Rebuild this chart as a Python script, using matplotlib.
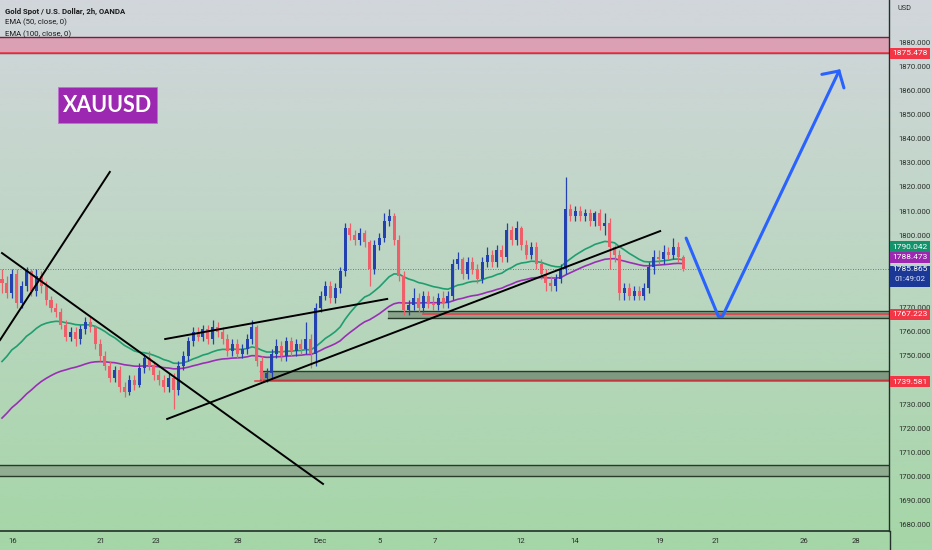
import matplotlib.pyplot as plt
import matplotlib.transforms as mtransforms
from matplotlib import font_manager
from matplotlib.lines import Line2D
from matplotlib.patches import Rectangle
import numpy as np


# -----------------------------
# DATA (XAUUSD, candles ~4h, open = previous close)
# -----------------------------

first_open = 1782

closes = [
    1780, 1776, 1784, 1772, 1779, 1785, 1777, 1783, 1779, 1773,
    1770, 1768, 1763, 1758, 1760, 1757, 1761, 1764, 1762, 1755,
    1750, 1746, 1741, 1744, 1737, 1735, 1740, 1738, 1745, 1749,
    1746, 1742, 1740, 1737, 1741, 1736, 1746, 1750, 1756, 1760,
    1758, 1761, 1757, 1762, 1760, 1757, 1752, 1755, 1751, 1753,
    1757, 1762, 1748, 1741, 1743, 1751, 1754, 1750, 1756, 1752,
    1755, 1753, 1757, 1751, 1770, 1775, 1779, 1774, 1778, 1785,
    1803, 1800, 1798, 1801, 1797, 1786, 1796, 1799, 1806, 1808,
    1798, 1783, 1769, 1771, 1774, 1770, 1775, 1772, 1771, 1774,
    1772, 1775, 1788, 1790, 1784, 1789, 1786, 1782, 1789, 1792,
    1789, 1794, 1791, 1802, 1798, 1803, 1796, 1792, 1795, 1788,
    1784, 1780, 1779, 1782, 1786, 1811, 1808, 1810, 1808, 1809,
    1806, 1809, 1804, 1805, 1795, 1792, 1776, 1778, 1775, 1777,
    1775, 1778, 1787, 1791, 1790, 1793, 1792, 1795, 1791, 1785.865,
]

highs = [
    1786, 1783, 1786, 1786, 1781, 1787, 1786, 1786, 1785, 1781,
    1775, 1772, 1770, 1765, 1762, 1762, 1763, 1766, 1766, 1763,
    1757, 1752, 1748, 1746, 1746, 1739, 1742, 1742, 1747, 1751,
    1752, 1748, 1744, 1742, 1743, 1743, 1748, 1752, 1758, 1762,
    1762, 1763, 1763, 1765, 1764, 1762, 1759, 1757, 1757, 1755,
    1759, 1765, 1763, 1750, 1745, 1753, 1757, 1756, 1758, 1758,
    1757, 1757, 1764, 1759, 1772, 1777, 1781, 1781, 1780, 1787,
    1805, 1805, 1802, 1803, 1802, 1798, 1798, 1801, 1809, 1811,
    1809, 1800, 1785, 1773, 1778, 1776, 1777, 1777, 1775, 1776,
    1777, 1777, 1790, 1793, 1791, 1791, 1791, 1788, 1791, 1795,
    1794, 1796, 1796, 1805, 1804, 1806, 1804, 1798, 1797, 1797,
    1790, 1786, 1783, 1784, 1788, 1824, 1813, 1812, 1812, 1811,
    1811, 1810, 1811, 1809, 1807, 1796, 1794, 1780, 1780, 1779,
    1779, 1780, 1789, 1794, 1794, 1796, 1795, 1799, 1797, 1792,
]

lows = [
    1776, 1774, 1774, 1770, 1770, 1777, 1775, 1775, 1776, 1771,
    1768, 1766, 1761, 1756, 1756, 1754, 1755, 1759, 1760, 1753,
    1748, 1744, 1739, 1739, 1735, 1733, 1734, 1736, 1737, 1743,
    1744, 1740, 1738, 1735, 1735, 1728, 1734, 1744, 1748, 1754,
    1756, 1756, 1755, 1755, 1758, 1755, 1750, 1750, 1749, 1749,
    1751, 1755, 1746, 1739, 1739, 1741, 1749, 1748, 1748, 1750,
    1750, 1751, 1751, 1745, 1746, 1768, 1773, 1772, 1772, 1776,
    1783, 1798, 1796, 1796, 1795, 1779, 1784, 1794, 1797, 1804,
    1796, 1781, 1767, 1767, 1769, 1768, 1768, 1770, 1769, 1769,
    1770, 1770, 1773, 1786, 1782, 1782, 1784, 1780, 1780, 1787,
    1787, 1787, 1789, 1789, 1796, 1796, 1794, 1790, 1790, 1786,
    1782, 1777, 1777, 1777, 1780, 1784, 1806, 1806, 1806, 1806,
    1804, 1804, 1802, 1800, 1786, 1789, 1773, 1773, 1773, 1773,
    1773, 1773, 1776, 1784, 1788, 1788, 1790, 1790, 1789, 1785,
]

# EMA start values (trend before the visible window)
ema_fast_seed = 1745
ema_slow_seed = 1722

# date ticks (bar positions)
tick_pos = [2.2, 20.2, 31.4, 48.2, 64.9, 77.1, 88.4, 105.9, 116.9, 134.3, 145.7, 163.7, 174.3]
tick_text = ["16", "21", "23", "28", "Dec", "5", "7", "12", "14", "19", "21", "26", "28"]

price_ticks = list(range(1680, 1890, 10))
hidden_ticks = [1740, 1780, 1790]   # covered by the price tags

# drawings: (bar, price) pairs
trend_lines = [
    [(-0.4, 1756.6), (22.0, 1826.2)],
    [(0.0, 1792.6), (65.5, 1697.0)],
    [(33.3, 1757.0), (78.6, 1773.6)],
    [(33.7, 1723.9), (134.3, 1801.7)],
]

forecast_path = [(139.6, 1798.8), (146.2, 1766.3), (147.0, 1766.3), (170.8, 1868.0)]
forecast_head = [(167.3, 1866.6), (170.8, 1868.0), (171.8, 1861.0)]

# zones: (start bar, low, high)
zone_top = (None, 1875.478, 1882.1)
zone_mid = (78.8, 1765.7, 1768.7)
zone_low = (52.7, 1740.0, 1743.9)
zone_bottom = (None, 1700.1, 1704.8)

red_levels = [(None, 1875.478), (85.9, 1767.223), (51.6, 1739.581)]

last_price = 1785.865
countdown = "01:49:02"

# right-scale tags: (centre price, text, colour)
tags = [
    (1875.4, "1875.478", "#f23645"),
    (1795.3, "1790.042", "#12936b"),
    (1790.8, "1788.473", "#9c27b0"),
    (1767.2, "1767.223", "#f23645"),
    (1739.3, "1739.581", "#f23645"),
]


# -----------------------------
# FONTS
# -----------------------------

names = {f.name for f in font_manager.fontManager.ttflist}
small_font = "Liberation Sans Narrow" if "Liberation Sans Narrow" in names else "Roboto"
small_size = 6.3 if small_font == "Liberation Sans Narrow" else 5.6


def ema(values, period, seed):
    k = 2 / (period + 1)
    out = []
    e = seed
    for v in values:
        e = e + k * (v - e)
        out.append(e)
    return out


# -----------------------------
# FIGURE + BACKGROUND
# -----------------------------

fig = plt.figure(figsize=(9.32, 5.5), dpi=100)

bg = fig.add_axes([0, 0, 1, 1], zorder=-1)
top_col = np.array([210, 214, 220]) / 255
bot_col = np.array([165, 214, 167]) / 255
t = np.linspace(0, 1, 256)[:, None]
grad = top_col[None, :] * (1 - t) + bot_col[None, :] * t
bg.imshow(grad[:, None, :], aspect="auto", extent=[0, 1, 0, 1])
bg.axis("off")

ax = fig.add_axes([0, 19 / 550, 889 / 932, 531 / 550])
ax.set_facecolor("none")

x_lo, x_hi = -0.41, 181.0
ax.set_xlim(x_lo, x_hi)
ax.set_ylim(1677.5, 1897.4)


# -----------------------------
# ZONES
# -----------------------------

def zone(z, face, edge):
    start = x_lo if z[0] is None else z[0]
    ax.add_patch(Rectangle((start, z[1]), x_hi - start, z[2] - z[1],
                           facecolor=face, edgecolor="none", zorder=1))
    ax.plot([start, x_hi], [z[1], z[1]], color=edge, lw=1.0, zorder=1.5)
    ax.plot([start, x_hi], [z[2], z[2]], color=edge, lw=1.0, zorder=1.5)


zone(zone_top, "#dca0b4", "#6e2440")
zone(zone_mid, "#8aa38b", "#263c28")
zone(zone_low, "#7f9a80", "#263c28")
zone(zone_bottom, "#90ad91", "#263c28")

for start, level in red_levels:
    s = x_lo if start is None else start
    ax.plot([s, x_hi], [level, level], color="#f23645", lw=1.1, zorder=1.6)

ax.axhline(last_price, color="#556055", lw=0.6, ls=(0, (1, 2)), zorder=1.2)


# -----------------------------
# CANDLES
# -----------------------------

opens = [first_open] + closes[:-1]
xs = np.arange(len(closes))

for i in xs:
    o, c = opens[i], closes[i]
    col = "#2341af" if c >= o else "#ef5f6a"
    h = max(highs[i], o, c)
    lo = min(lows[i], o, c)
    ax.vlines(i, lo, h, color=col, lw=0.9, zorder=3)
    ax.bar(i, max(abs(c - o), 0.3), bottom=min(o, c), width=0.62,
           color=col, zorder=3.1)


# -----------------------------
# EMA 50 / 100 (2h)  -> 25 / 50 on these 4h bars
# -----------------------------

ax.plot(xs, ema(closes, 25, ema_fast_seed), color="#1f9e70", lw=1.2, zorder=2.5)
ax.plot(xs, ema(closes, 50, ema_slow_seed), color="#9a2fb5", lw=1.2, zorder=2.5)


# -----------------------------
# DRAWINGS
# -----------------------------

for line in trend_lines:
    ax.plot([p[0] for p in line], [p[1] for p in line], color="black", lw=1.4, zorder=4)

ax.plot([p[0] for p in forecast_path], [p[1] for p in forecast_path],
        color="#2962ff", lw=2.2, zorder=4, solid_capstyle="round", solid_joinstyle="round")
ax.plot([p[0] for p in forecast_head], [p[1] for p in forecast_head],
        color="#2962ff", lw=2.2, zorder=4, solid_capstyle="round", solid_joinstyle="miter")

ax.add_patch(Rectangle((58 / 889, 1 - 123 / 531), 99 / 889, 36 / 531,
                       transform=ax.transAxes, facecolor="#9c27b0",
                       edgecolor="#c070d0", lw=0.6, zorder=5))
ax.text(107.5 / 889, 1 - 105 / 531, "XAUUSD", transform=ax.transAxes,
        ha="center", va="center", color="white", fontsize=15.5,
        fontweight="bold", family="Lato", zorder=6)


# -----------------------------
# AXES / TICKS
# -----------------------------

for side in ["top", "left"]:
    ax.spines[side].set_visible(False)
ax.spines["right"].set_color("#22302a")
ax.spines["bottom"].set_color("#22302a")
ax.spines["right"].set_linewidth(1.0)
ax.spines["bottom"].set_linewidth(1.2)

ax.yaxis.tick_right()
ax.set_yticks(price_ticks)
ax.set_yticklabels(["" if p in hidden_ticks else f"{p:.3f}" for p in price_ticks])
ax.tick_params(axis="y", length=0, pad=7, labelsize=small_size, labelcolor="#2a2f2a")
ax.set_xticks(tick_pos)
ax.set_xticklabels(tick_text)
ax.tick_params(axis="x", length=0, pad=5, labelsize=small_size, labelcolor="#2a2f2a")
for lab in ax.get_xticklabels() + ax.get_yticklabels():
    lab.set_family(small_font)

fig.add_artist(Line2D([889.5 / 932, 889.5 / 932], [0, 19 / 550],
                      transform=fig.transFigure, color="#22302a", lw=1.0))

fig.text(898 / 932, 1 - 8 / 550, "USD", fontsize=small_size - 0.3,
         family=small_font, color="#2a2f2a", va="center")


# -----------------------------
# PRICE TAGS ON THE SCALE
# -----------------------------

blend = mtransforms.blended_transform_factory(ax.transAxes, ax.transData)
tag_h = 11 / 2.415
tag_x = 1.001
tag_w = 40 / 889

for price, text, col in tags:
    ax.add_patch(Rectangle((tag_x, price - tag_h / 2), tag_w, tag_h, transform=blend,
                           facecolor=col, edgecolor="none", clip_on=False, zorder=10))
    ax.text(tag_x + tag_w / 2, price, text, transform=blend, ha="center", va="center",
            color="white", fontsize=small_size + 0.4, family=small_font,
            clip_on=False, zorder=11)

ax.add_patch(Rectangle((tag_x, last_price - 2.4 - tag_h * 1.05), tag_w, tag_h * 1.9,
                       transform=blend, facecolor="#1c3896", edgecolor="none",
                       clip_on=False, zorder=10))
ax.text(tag_x + tag_w / 2, last_price, f"{last_price:.3f}", transform=blend,
        ha="center", va="center", color="white", fontsize=small_size + 0.4,
        family=small_font, clip_on=False, zorder=11)
ax.text(tag_x + tag_w / 2, last_price - 4.0, countdown, transform=blend,
        ha="center", va="center", color="#dfe6ff", fontsize=small_size + 0.2,
        family=small_font, clip_on=False, zorder=11)


# -----------------------------
# LEGEND TEXT
# -----------------------------

fig.text(5 / 932, 1 - 11 / 550, "Gold Spot / U.S. Dollar, 2h, OANDA", fontsize=small_size,
         family=small_font, fontweight="bold", color="#1a1a1a", va="center")
fig.text(5 / 932, 1 - 22.5 / 550, "EMA (50, close, 0)", fontsize=small_size,
         family=small_font, color="#1a1a1a", va="center")
fig.text(5 / 932, 1 - 34 / 550, "EMA (100, close, 0)", fontsize=small_size,
         family=small_font, color="#1a1a1a", va="center")

fig.savefig("out.png", dpi=100)
